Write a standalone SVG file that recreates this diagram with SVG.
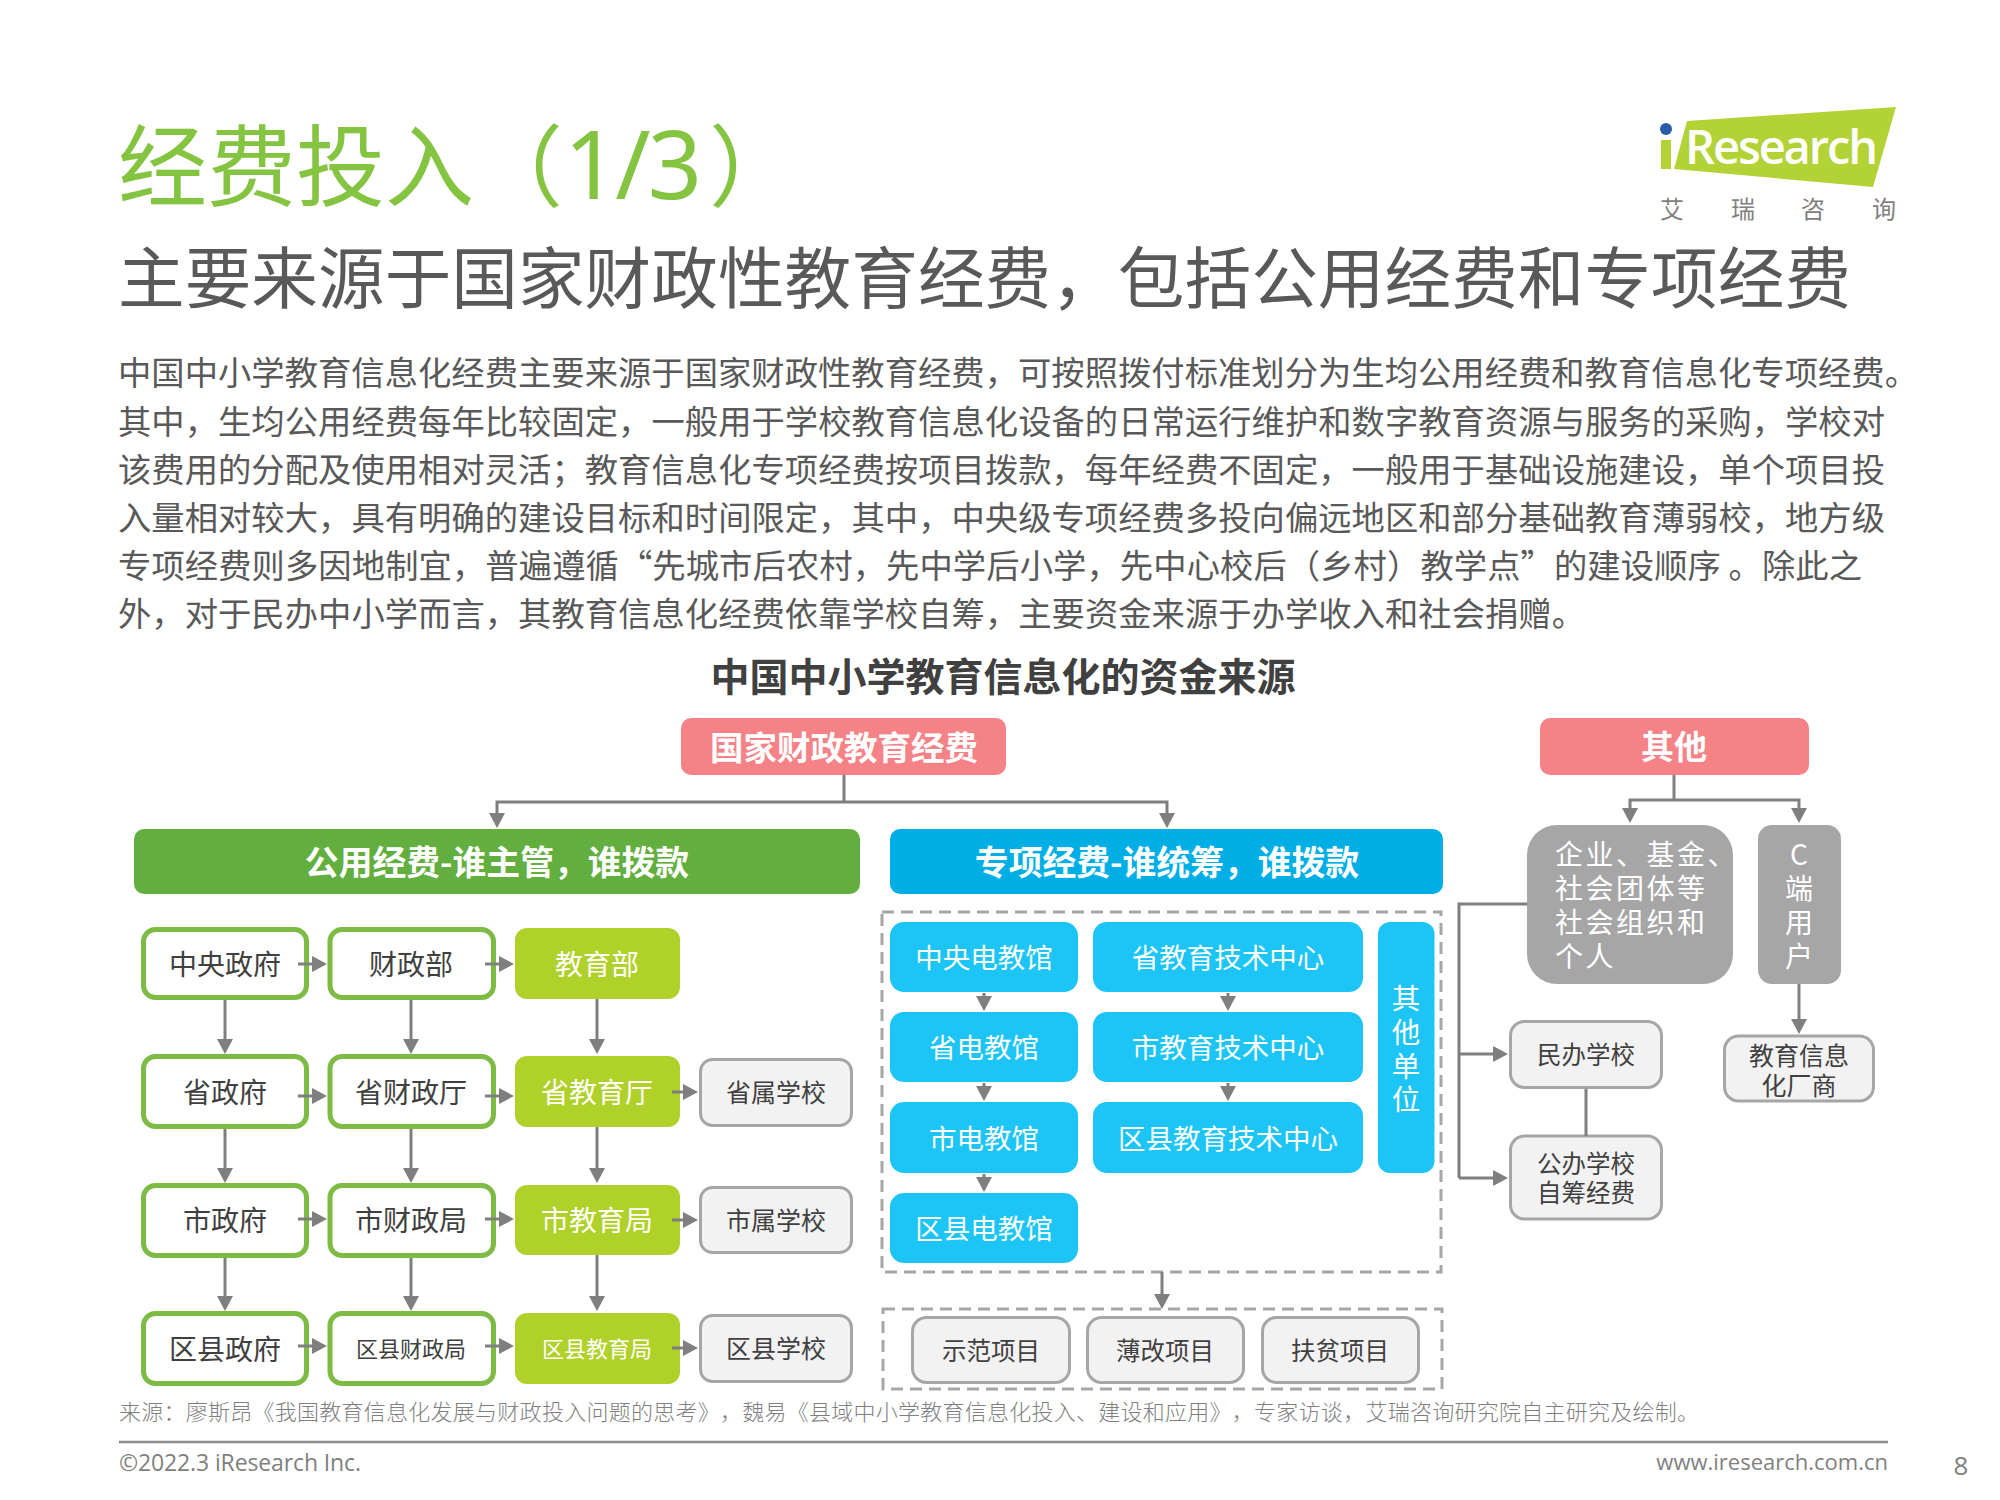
<svg xmlns="http://www.w3.org/2000/svg" width="2000" height="1500" viewBox="0 0 2000 1500">
<style>
text{font-family:"Noto Sans CJK SC","Noto Sans",sans-serif;text-spacing-trim:space-all}
.c{text-anchor:middle;dominant-baseline:central}
.w{fill:#fff}
.d{fill:#404040}
.b{font-weight:700}
.body{font-size:33.3px;fill:#595959;font-weight:400}
.g{fill:#fff;stroke:#7dbb45;stroke-width:5}
.lime{fill:#b0d12a}
.pale{fill:#f2f2f2;stroke:#a6a6a6;stroke-width:3}
.sky{fill:#1cc5f5}
.dash{fill:none;stroke:#a6a6a6;stroke-width:3;stroke-dasharray:12 7}
.con{fill:none;stroke:#7f7f7f;stroke-width:3}
.arr{fill:none;stroke:#7f7f7f;stroke-width:3;marker-end:url(#ah)}
.en{font-family:"Open Sans","Noto Sans",sans-serif;fill:#7f7f7f}
</style>
<defs>
<marker id="ah" markerUnits="userSpaceOnUse" markerWidth="16" markerHeight="16" refX="10" refY="8" orient="auto"><path d="M0 0L15 8L0 16z" fill="#7f7f7f"/></marker>
</defs>
<rect width="2000" height="1500" fill="#fff"/>

<g id="header">
<text x="118" y="199" font-size="89" fill="#84c441" font-weight="400">经费投入<tspan x="474">（</tspan><tspan x="564" font-size="95" style="font-family:'Noto Sans',sans-serif" textLength="138">1/3</tspan><tspan x="709">）</tspan></text>
<text x="118" y="303" font-size="66.6" fill="#595959" font-weight="400" textLength="1733">主要来源于国家财政性教育经费，包括公用经费和专项经费</text>
</g>
<g id="logo">
<polygon points="1687,121 1896,107 1873,187 1674,169" fill="#b2d235"/>
<rect x="1661" y="140" width="10" height="29" fill="#b2d235"/>
<circle cx="1666" cy="129" r="6" fill="#2a5caa"/>
<text x="1685" y="164" font-size="47" fill="#fff" font-weight="600" style="font-family:'Open Sans',sans-serif" textLength="193">Research</text>
<g font-size="24" fill="#7f7f7f"><text class="c" x="1672" y="207.500">艾</text><text class="c" x="1743" y="207.500">瑞</text><text class="c" x="1813" y="207.500">咨</text><text class="c" x="1884" y="207.500">询</text></g>
</g>
<g id="body">
<text class="body" x="118" y="385" textLength="1800">中国中小学教育信息化经费主要来源于国家财政性教育经费，可按照拨付标准划分为生均公用经费和教育信息化专项经费。</text>
<text class="body" x="118" y="433.500" textLength="1767">其中，生均公用经费每年比较固定，一般用于学校教育信息化设备的日常运行维护和数字教育资源与服务的采购，学校对</text>
<text class="body" x="118" y="482" textLength="1767">该费用的分配及使用相对灵活；教育信息化专项经费按项目拨款，每年经费不固定，一般用于基础设施建设，单个项目投</text>
<text class="body" x="118" y="530" textLength="1767">入量相对较大，具有明确的建设目标和时间限定，其中，中央级专项经费多投向偏远地区和部分基础教育薄弱校，地方级</text>
<text class="body" x="118" y="578" textLength="1744">专项经费则多因地制宜，普遍遵循“先城市后农村，先中学后小学，先中心校后（乡村）教学点”的建设顺序 。除此之</text>
<text class="body" x="118" y="626" textLength="1467">外，对于民办中小学而言，其教育信息化经费依靠学校自筹，主要资金来源于办学收入和社会捐赠。</text>
<text class="c d b" x="1003" y="673.500" font-size="39">中国中小学教育信息化的资金来源</text>
</g>

<g id="n-guojia"><rect x="681" y="718" width="325" height="57" rx="10" fill="#f58287"/><text class="c w b" x="844" y="745" font-size="33.500">国家财政教育经费</text></g>
<g id="n-qita"><rect x="1540" y="718" width="269" height="57" rx="10" fill="#f58287"/><text class="c w b" x="1674" y="745" font-size="33">其他</text></g>
<g id="n-gongyong"><rect x="134" y="829" width="726" height="65" rx="10" fill="#62ae3f"/><text class="c w b" x="497" y="860.500" font-size="33.800">公用经费-谁主管，谁拨款</text></g>
<g id="n-zhuanxiang"><rect x="890" y="829" width="553" height="65" rx="10" fill="#00aee6"/><text class="c w b" x="1167" y="860.500" font-size="33.800">专项经费-谁统筹，谁拨款</text></g>

<g id="n-zyzf"><rect class="g" x="143.500" y="929.500" width="163" height="68" rx="12"/><text class="c d" x="225" y="963" font-size="28">中央政府</text></g>
<g id="n-czb"><rect class="g" x="330" y="929.500" width="163.500" height="68" rx="12"/><text class="c d" x="411" y="963" font-size="28">财政部</text></g>
<g id="n-jyb"><rect class="lime" x="515" y="928" width="165" height="71" rx="12"/><text class="c w" x="597" y="963" font-size="28">教育部</text></g>

<g id="n-szf"><rect class="g" x="143.500" y="1056.500" width="163" height="70" rx="12"/><text class="c d" x="225" y="1091" font-size="28">省政府</text></g>
<g id="n-sczt"><rect class="g" x="330" y="1056.500" width="163.500" height="70" rx="12"/><text class="c d" x="411" y="1091" font-size="28">省财政厅</text></g>
<g id="n-sjyt"><rect class="lime" x="515" y="1056" width="165" height="71" rx="12"/><text class="c w" x="597" y="1091" font-size="28">省教育厅</text></g>
<g id="n-ssxx"><rect class="pale" x="700.500" y="1059.500" width="151" height="66" rx="12"/><text class="c d" x="776" y="1091" font-size="25">省属学校</text></g>

<g id="n-shizf"><rect class="g" x="143.500" y="1185.500" width="163" height="70" rx="12"/><text class="c d" x="225" y="1219" font-size="28">市政府</text></g>
<g id="n-shicz"><rect class="g" x="330" y="1185.500" width="163.500" height="70" rx="12"/><text class="c d" x="411" y="1219" font-size="28">市财政局</text></g>
<g id="n-shijy"><rect class="lime" x="515" y="1185" width="165" height="70" rx="12"/><text class="c w" x="597" y="1219" font-size="28">市教育局</text></g>
<g id="n-shixx"><rect class="pale" x="700.500" y="1187.500" width="151" height="65" rx="12"/><text class="c d" x="776" y="1219" font-size="25">市属学校</text></g>

<g id="n-qxzf"><rect class="g" x="143.500" y="1313.500" width="163" height="70" rx="12"/><text class="c d" x="225" y="1348" font-size="28">区县政府</text></g>
<g id="n-qxcz"><rect class="g" x="330" y="1313.500" width="163.500" height="70" rx="12"/><text class="c d" x="411" y="1347" font-size="22">区县财政局</text></g>
<g id="n-qxjy"><rect class="lime" x="515" y="1313" width="165" height="71" rx="12"/><text class="c w" x="597" y="1347" font-size="22">区县教育局</text></g>
<g id="n-qxxx"><rect class="pale" x="700.500" y="1315.500" width="151" height="66" rx="12"/><text class="c d" x="776" y="1347" font-size="25">区县学校</text></g>

<g id="n-dash1"><rect class="dash" x="882" y="912" width="559" height="360"/></g>
<g id="n-dash2"><rect class="dash" x="883" y="1309" width="559" height="80"/></g>

<g id="n-zydjg"><rect class="sky" x="890" y="922" width="188" height="70" rx="14"/><text class="c w" x="984" y="956" font-size="27.500">中央电教馆</text></g>
<g id="n-sdjg"><rect class="sky" x="890" y="1012" width="188" height="70" rx="14"/><text class="c w" x="984" y="1046" font-size="27.500">省电教馆</text></g>
<g id="n-shidjg"><rect class="sky" x="890" y="1102" width="188" height="71" rx="14"/><text class="c w" x="984" y="1137" font-size="27.500">市电教馆</text></g>
<g id="n-qxdjg"><rect class="sky" x="890" y="1193" width="188" height="70" rx="14"/><text class="c w" x="984" y="1227" font-size="27.500">区县电教馆</text></g>
<g id="n-sjs"><rect class="sky" x="1093" y="922" width="270" height="70" rx="14"/><text class="c w" x="1228" y="956" font-size="27.500">省教育技术中心</text></g>
<g id="n-shijs"><rect class="sky" x="1093" y="1012" width="270" height="70" rx="14"/><text class="c w" x="1228" y="1046" font-size="27.500">市教育技术中心</text></g>
<g id="n-qxjs"><rect class="sky" x="1093" y="1102" width="270" height="71" rx="14"/><text class="c w" x="1228" y="1137" font-size="27.500">区县教育技术中心</text></g>
<g id="n-qtdw"><rect class="sky" x="1378" y="922" width="56.500" height="251" rx="12"/><g font-size="28.500"><text class="c w" x="1406" y="996.500">其</text><text class="c w" x="1406" y="1030.500">他</text><text class="c w" x="1406" y="1064">单</text><text class="c w" x="1406" y="1097.500">位</text></g></g>

<g id="n-sf"><rect class="pale" x="912.500" y="1317.500" width="157" height="65" rx="14"/><text class="c d" x="991" y="1349" font-size="24.500">示范项目</text></g>
<g id="n-bg"><rect class="pale" x="1087.500" y="1317.500" width="156" height="65" rx="14"/><text class="c d" x="1165" y="1349" font-size="24.500">薄改项目</text></g>
<g id="n-fp"><rect class="pale" x="1262.500" y="1317.500" width="156" height="65" rx="14"/><text class="c d" x="1340" y="1349" font-size="24.500">扶贫项目</text></g>

<g id="n-qiye"><rect x="1527" y="825" width="206" height="159" rx="30" fill="#a6a6a6"/><g font-size="28" letter-spacing="2.500" fill="#fff"><text x="1555" y="853" dominant-baseline="central">企业、基金、</text><text x="1555" y="887" dominant-baseline="central">社会团体等</text><text x="1555" y="921" dominant-baseline="central">社会组织和</text><text x="1555" y="955" dominant-baseline="central">个人</text></g></g>
<g id="n-cuser"><rect x="1758" y="825" width="83" height="159" rx="14" fill="#a6a6a6"/><g font-size="28"><text class="c w" x="1799" y="853">C</text><text class="c w" x="1799" y="887">端</text><text class="c w" x="1799" y="921">用</text><text class="c w" x="1799" y="955">户</text></g></g>
<g id="n-mb"><rect class="pale" x="1510.500" y="1021.500" width="151" height="66" rx="14"/><text class="c d" x="1586" y="1053.500" font-size="24.500">民办学校</text></g>
<g id="n-gb"><rect class="pale" x="1510.500" y="1136" width="151" height="83" rx="14"/><text class="c d" x="1586" y="1162.500" font-size="24.500">公办学校</text><text class="c d" x="1586" y="1191.500" font-size="24.500">自筹经费</text></g>
<g id="n-cs"><rect class="pale" x="1724.500" y="1036" width="149" height="65" rx="14"/><text class="c d" x="1799" y="1053.500" font-size="25">教育信息</text><text class="c d" x="1799" y="1083.500" font-size="25">化厂商</text></g>

<g id="connectors">
<path class="con" d="M844 775V802"/>
<path class="arr" d="M844 802H497V823"/>
<path class="arr" d="M844 802H1167V823"/>
<path class="con" d="M1674 775V800"/>
<path class="arr" d="M1674 800H1630V818"/>
<path class="arr" d="M1674 800H1799V818"/>
<path class="arr" d="M298 964H322"/><path class="arr" d="M485 964H509"/>
<path class="arr" d="M298 1096H322"/><path class="arr" d="M485 1096H509"/><path class="arr" d="M672 1092H693"/>
<path class="arr" d="M298 1219H322"/><path class="arr" d="M485 1219H509"/><path class="arr" d="M672 1220H693"/>
<path class="arr" d="M298 1346H322"/><path class="arr" d="M485 1346H509"/><path class="arr" d="M672 1348H693"/>
<path class="arr" d="M225 1000V1049"/><path class="arr" d="M411 1000V1049"/><path class="arr" d="M597 999V1049"/>
<path class="arr" d="M225 1129V1178"/><path class="arr" d="M411 1129V1178"/><path class="arr" d="M597 1127V1178"/>
<path class="arr" d="M225 1258V1306"/><path class="arr" d="M411 1258V1306"/><path class="arr" d="M597 1255V1306"/>
<path class="arr" d="M984 993V1006"/><path class="arr" d="M984 1083V1096"/><path class="arr" d="M984 1174V1187"/>
<path class="arr" d="M1228 993V1006"/><path class="arr" d="M1228 1083V1096"/>
<path class="arr" d="M1162 1272V1304"/>
<path class="con" d="M1527 904H1459V1178"/>
<path class="arr" d="M1459 1054H1503"/>
<path class="arr" d="M1459 1178H1503"/>
<path class="con" d="M1586 1089V1136"/>
<path class="arr" d="M1799 984V1029"/>
</g>

<g id="footer">
<text x="119" y="1420" font-size="22" fill="#7f7f7f" font-weight="300" textLength="1580">来源：廖斯昂《我国教育信息化发展与财政投入问题的思考》，魏易《县域中小学教育信息化投入、建设和应用》，专家访谈，艾瑞咨询研究院自主研究及绘制。</text>
<line x1="119" y1="1442" x2="1888" y2="1442" stroke="#8c8c8c" stroke-width="2.500"/>
<text class="en" x="119" y="1471" font-size="23" textLength="242">©2022.3 iResearch Inc.</text>
<text class="en" x="1888" y="1470" font-size="22" text-anchor="end">www.iresearch.com.cn</text>
<text class="en" x="1961" y="1475" font-size="26" text-anchor="middle">8</text>
</g>
</svg>
